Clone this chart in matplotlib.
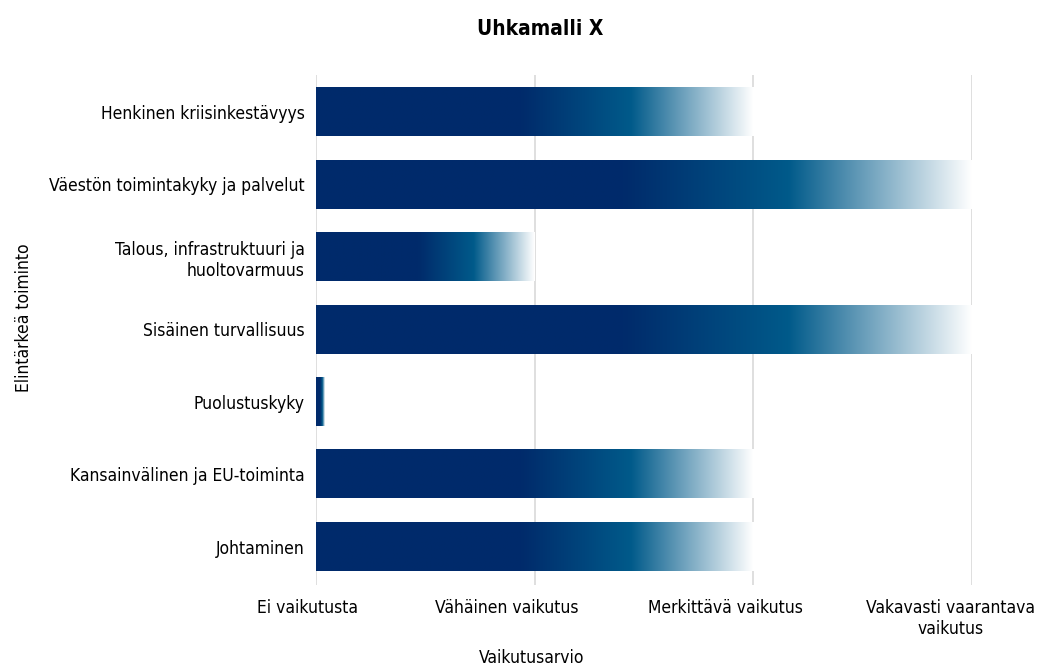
import matplotlib
matplotlib.use("Agg")
import matplotlib.pyplot as plt
import matplotlib.colors as colors
import matplotlib.transforms as mtransforms
import numpy as np

plt.rcParams['font.family'] = ['DejaVu Sans']
plt.rcParams['font.stretch'] = 'condensed'

# Data
categories = ['Henkinen kriisinkestävyys',
              'Väestön toimintakyky ja palvelut',
              'Talous, infrastruktuuri ja\nhuoltovarmuus',
              'Sisäinen turvallisuus',
              'Puolustuskyky',
              'Kansainvälinen ja EU-toiminta',
              'Johtaminen']
values = [2, 3, 1, 3, 0.04, 2, 2]
tick_labels = ['Ei vaikutusta', 'Vähäinen vaikutus', 'Merkittävä vaikutus',
               'Vakavasti vaarantava\nvaikutus']

# Gradient used in every bar, stretched over the bar length
grad_cmap = colors.LinearSegmentedColormap.from_list(
    'bar_grad', [(0.0, '#002a6b'), (0.47, '#002b6b'), (0.72, '#005a8a'), (1.0, '#ffffff')])

fig = plt.figure(figsize=(10.37, 6.67), dpi=100)
ax = fig.add_axes([0.3047, 0.1229, 0.6326, 0.7647])

bar_height = 0.67
gradient = np.linspace(0, 1, 256).reshape(1, -1)
for i, v in enumerate(values):
    ax.imshow(gradient, cmap=grad_cmap, aspect='auto', interpolation='bilinear',
              extent=(0, v, i + bar_height / 2, i - bar_height / 2), zorder=2)

ax.set_xlim(0, 3)
ax.set_ylim(6.53, -0.51)
ax.set_xticks(range(len(tick_labels)))
ax.set_xticklabels(tick_labels, fontsize=12.5)
ax.set_yticks(range(len(categories)))
ax.set_yticklabels(categories, fontsize=12.5)
ax.tick_params(axis='x', length=0, pad=10)
ax.tick_params(axis='y', length=0, pad=8)
ax.grid(axis='x', color='#d9d9d9', linewidth=1.2, zorder=0)
for s in ax.spines.values():
    s.set_visible(False)

# the x tick labels sit a bit left of their grid lines in the original
shifts_px = [-8, -28, -28, -21]
for lab, dx in zip(ax.get_xticklabels(), shifts_px):
    lab.set_transform(lab.get_transform() +
                      mtransforms.ScaledTranslation(dx / 100, 0, fig.dpi_scale_trans))

ax.set_xlabel('Vaikutusarvio', fontsize=12.5)
ax.xaxis.set_label_coords(0.329, -0.125)
ax.set_ylabel('Elintärkeä toiminto', fontsize=12.5)
ax.yaxis.set_label_coords(-0.431, 0.525)
fig.text(0.521, 0.956, 'Uhkamalli X', ha='center', va='center', fontsize=15, fontweight='bold')

fig.savefig('out.png', dpi=100)
